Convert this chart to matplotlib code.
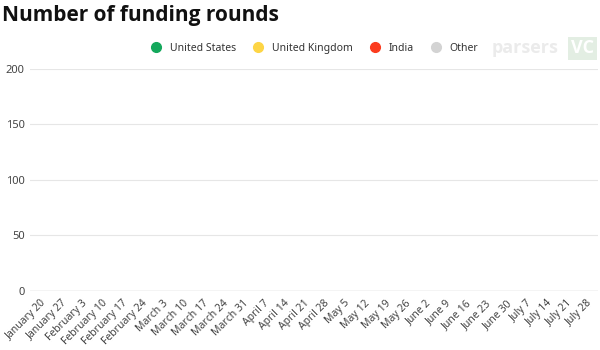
import numpy as np
import matplotlib.pyplot as plt
from matplotlib.lines import Line2D

plt.rcParams['font.family'] = ['Noto Sans', 'DejaVu Sans']

# weekly buckets
weeks = ["January 20", "January 27", "February 3", "February 10", "February 17",
         "February 24", "March 3", "March 10", "March 17", "March 24", "March 31",
         "April 7", "April 14", "April 21", "April 28", "May 5", "May 12", "May 19",
         "May 26", "June 2", "June 9", "June 16", "June 23", "June 30", "July 7",
         "July 14", "July 21", "July 28"]

# rounds per country (nothing drawn yet at this frame)
us_rounds = [0] * len(weeks)
uk_rounds = [0] * len(weeks)
india_rounds = [0] * len(weeks)
other_rounds = [0] * len(weeks)

series_names = ["United States", "United Kingdom", "India", "Other"]
series_colors = ["#14a85c", "#fdd545", "#fb3b1e", "#d3d3d3"]
yticks = [0, 50, 100, 150, 200]

fig = plt.figure(figsize=(6, 3.5), dpi=100)
ax = fig.add_axes([0.05, 0.169, 0.947, 0.634])

x = np.arange(len(weeks))
bottom = np.zeros(len(weeks))
for vals, col in zip([us_rounds, uk_rounds, india_rounds, other_rounds], series_colors):
    ax.bar(x, vals, bottom=bottom, color=col, width=0.7)
    bottom += np.array(vals)

ax.set_xlim(-0.55, len(weeks) - 0.45)
ax.set_ylim(0, 200)
ax.set_yticks(yticks)
ax.yaxis.grid(True, color="#e6e6e6", linewidth=0.8)
ax.set_axisbelow(True)
for s in ax.spines.values():
    s.set_visible(False)
ax.axhline(0, color="#d0d0d0", linewidth=1)
ax.tick_params(axis="both", length=0, labelsize=7.5, labelcolor="#444444")
ax.tick_params(axis="y", pad=4, labelsize=8)
ax.tick_params(axis="x", pad=5)
ax.set_xticks(x)
ax.set_xticklabels(weeks, rotation=45, ha="right", rotation_mode="anchor")

fig.text(0.004, 0.955, "Number of funding rounds", fontsize=15, fontweight="bold",
         family=["Open Sans", "DejaVu Sans"], va="center", ha="left", color="#111111")

handles = [Line2D([], [], marker="o", linestyle="", markersize=7,
                  markerfacecolor=c, markeredgecolor=c) for c in series_colors]
fig.legend(handles, series_names, loc="center", bbox_to_anchor=(0.52, 0.862),
           ncol=4, frameon=False, fontsize=7.5, handletextpad=0.3,
           columnspacing=1.15, labelcolor="#333333")

# watermark
fig.text(0.82, 0.862, "parsers", fontsize=13, fontweight="bold", color="#ebebeb",
         family=["Open Sans", "DejaVu Sans"], va="center", ha="left")
fig.text(0.952, 0.862, "VC", fontsize=13, fontweight="bold", color="white",
         family=["Open Sans", "DejaVu Sans"], va="center", ha="left",
         bbox=dict(boxstyle="square,pad=0.15", facecolor="#e3eee3", edgecolor="none"))

fig.savefig("out.png", dpi=100)
